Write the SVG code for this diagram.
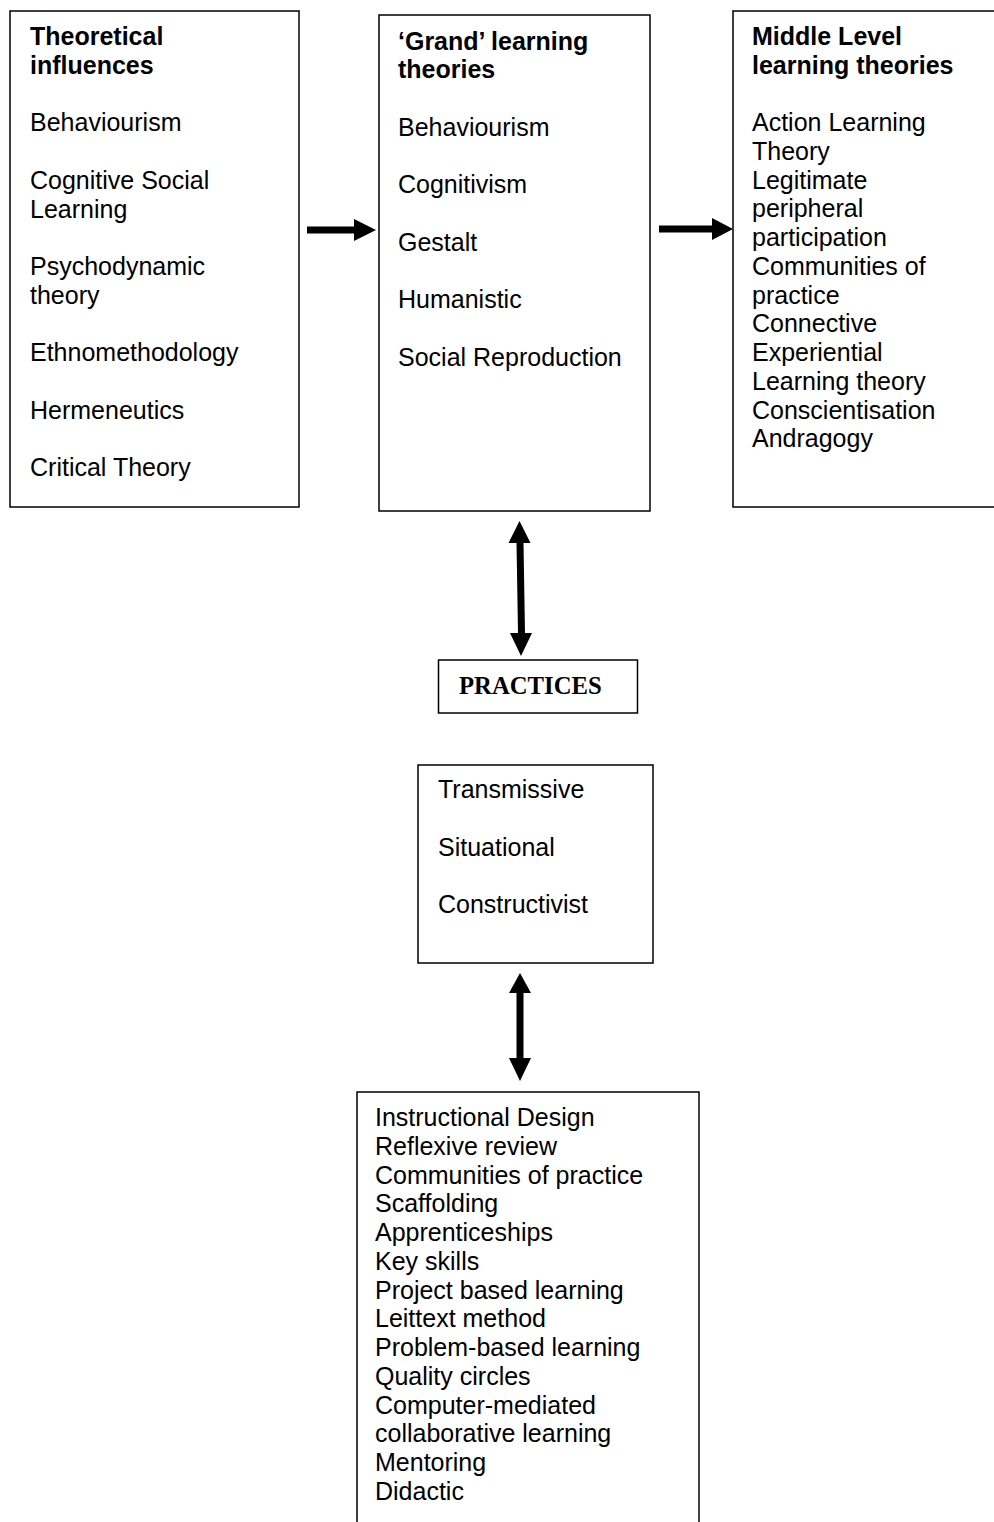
<svg xmlns="http://www.w3.org/2000/svg" width="994" height="1522" viewBox="0 0 994 1522">
<style>
.box{fill:#fff;stroke:#000;stroke-width:1.5}
.t{font-family:"Liberation Sans",Arial,sans-serif;font-size:25px;fill:#000}
.b{font-weight:bold}
.p{font-family:"Liberation Serif","Times New Roman",serif;font-size:24.7px;font-weight:bold;fill:#000}
.ar{fill:#000;stroke:none}
</style>
<rect width="994" height="1522" fill="#fff"/>
<g id="theoretical-influences">
<rect class="box" x="10" y="11" width="289" height="496"/>
<text class="t b" x="30" y="45">Theoretical</text>
<text class="t b" x="30" y="73.7">influences</text>
<text class="t" x="30" y="131.2">Behaviourism</text>
<text class="t" x="30" y="188.7">Cognitive Social</text>
<text class="t" x="30" y="217.5">Learning</text>
<text class="t" x="30" y="275">Psychodynamic</text>
<text class="t" x="30" y="303.7">theory</text>
<text class="t" x="30" y="361.2">Ethnomethodology</text>
<text class="t" x="30" y="418.7">Hermeneutics</text>
<text class="t" x="30" y="476.2">Critical Theory</text>
</g>
<g id="grand-theories">
<rect class="box" x="379" y="15" width="271" height="496"/>
<text class="t b" x="398" y="49.5">‘Grand’ learning</text>
<text class="t b" x="398" y="78.2">theories</text>
<text class="t" x="398" y="135.5">Behaviourism</text>
<text class="t" x="398" y="193">Cognitivism</text>
<text class="t" x="398" y="250.5">Gestalt</text>
<text class="t" x="398" y="308">Humanistic</text>
<text class="t" x="398" y="365.5">Social Reproduction</text>
</g>
<g id="middle-level-theories">
<rect class="box" x="733" y="11" width="275" height="496"/>
<text class="t b" x="752" y="45">Middle Level</text>
<text class="t b" x="752" y="73.7">learning theories</text>
<text class="t" x="752" y="131">Action Learning</text>
<text class="t" x="752" y="159.7">Theory</text>
<text class="t" x="752" y="188.5">Legitimate</text>
<text class="t" x="752" y="217.2">peripheral</text>
<text class="t" x="752" y="246">participation</text>
<text class="t" x="752" y="274.7">Communities of</text>
<text class="t" x="752" y="303.5">practice</text>
<text class="t" x="752" y="332.2">Connective</text>
<text class="t" x="752" y="361">Experiential</text>
<text class="t" x="752" y="389.7">Learning theory</text>
<text class="t" x="752" y="418.5">Conscientisation</text>
<text class="t" x="752" y="447.2">Andragogy</text>
</g>
<g id="practices">
<rect class="box" x="438.5" y="660" width="199" height="53"/>
<text class="p" x="459" y="694">PRACTICES</text>
</g>
<g id="practice-types">
<rect class="box" x="418" y="765" width="235" height="198"/>
<text class="t" x="438" y="798">Transmissive</text>
<text class="t" x="438" y="855.5">Situational</text>
<text class="t" x="438" y="913">Constructivist</text>
</g>
<g id="practice-methods">
<rect class="box" x="357" y="1092" width="342" height="450"/>
<text class="t" x="375" y="1126">Instructional Design</text>
<text class="t" x="375" y="1154.75">Reflexive review</text>
<text class="t" x="375" y="1183.5">Communities of practice</text>
<text class="t" x="375" y="1212.25">Scaffolding</text>
<text class="t" x="375" y="1241">Apprenticeships</text>
<text class="t" x="375" y="1269.75">Key skills</text>
<text class="t" x="375" y="1298.5">Project based learning</text>
<text class="t" x="375" y="1327.25">Leittext method</text>
<text class="t" x="375" y="1356">Problem-based learning</text>
<text class="t" x="375" y="1384.75">Quality circles</text>
<text class="t" x="375" y="1413.5">Computer-mediated</text>
<text class="t" x="375" y="1442.25">collaborative learning</text>
<text class="t" x="375" y="1471">Mentoring</text>
<text class="t" x="375" y="1499.75">Didactic</text>
</g>
<g id="connectors">
<polygon class="ar" points="307,226.5 354,226.5 354,219 376,230 354,241 354,233.5 307,233.5"/>
<polygon class="ar" points="659,225.5 712,225.5 712,218 733,229 712,240 712,232.5 659,232.5"/>
<polygon class="ar" points="519.5,521 530.5,543 523.5,543 525,633 532,633 521,656 510,633 518,633 516.5,543 508.5,543"/>
<polygon class="ar" points="520,973 531,993 523.5,993 523.5,1058 531,1058 520,1081 509,1058 516.5,1058 516.5,993 509,993"/>
</g>
</svg>
